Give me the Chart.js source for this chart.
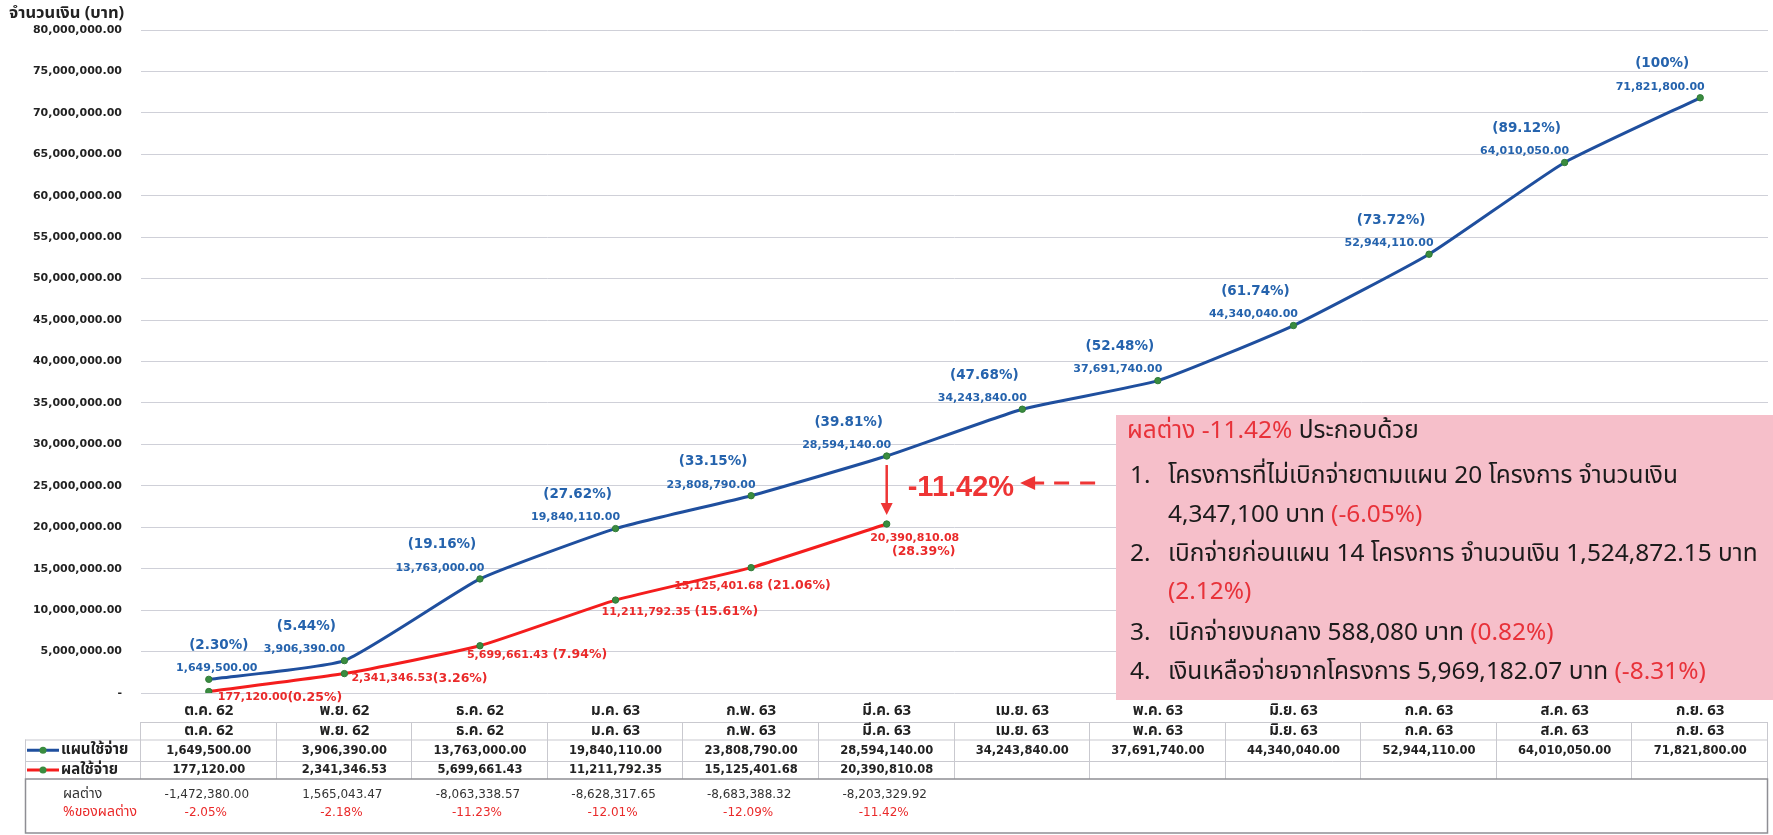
<!DOCTYPE html>
<html>
<head>
<meta charset="utf-8">
<script src="https://cdn.jsdelivr.net/npm/chart.js@4.4.0/dist/chart.umd.min.js"></script>
<style>
html,body{margin:0;padding:0;background:#ffffff;}
#wrap{position:relative;width:1773px;height:835px;}
</style>
</head>
<body>
<div id="wrap"><canvas id="c" width="1773" height="835"></canvas></div>
<script>
// ---------------- DATA ----------------
const months = ['ต.ค. 62','พ.ย. 62','ธ.ค. 62','ม.ค. 63','ก.พ. 63','มี.ค. 63','เม.ย. 63','พ.ค. 63','มิ.ย. 63','ก.ค. 63','ส.ค. 63','ก.ย. 63'];
const seriesNames = ['แผนใช้จ่าย','ผลใช้จ่าย'];
const planValues = [1649500.00, 3906390.00, 13763000.00, 19840110.00, 23808790.00, 28594140.00, 34243840.00, 37691740.00, 44340040.00, 52944110.00, 64010050.00, 71821800.00];
const planPercents = ['2.30%','5.44%','19.16%','27.62%','33.15%','39.81%','47.68%','52.48%','61.74%','73.72%','89.12%','100%'];
const actualValues = [177120.00, 2341346.53, 5699661.43, 11211792.35, 15125401.68, 20390810.08, null, null, null, null, null, null];
const actualPercents = ['0.25%','3.26%','7.94%','15.61%','21.06%','28.39%'];
const diffValues = [-1472380.00, 1565043.47, -8063338.57, -8628317.65, -8683388.32, -8203329.92];
const diffPercents = ['-2.05%','-2.18%','-11.23%','-12.01%','-12.09%','-11.42%'];
const diffRowNames = ['ผลต่าง','%ของผลต่าง'];
const yAxisTitle = 'จำนวนเงิน (บาท)';
const yMin = 0, yMax = 80000000, yStep = 5000000;
const gapLabel = '-11.42%';
const noteTitle = [['ผลต่าง -11.42%','r'],[' ประกอบด้วย','k']];
const noteLines = [
  {num:'1.', segs:[['โครงการที่ไม่เบิกจ่ายตามแผน 20 โครงการ จำนวนเงิน','k']]},
  {num:'',   segs:[['4,347,100 บาท ','k'],['(-6.05%)','r']]},
  {num:'2.', segs:[['เบิกจ่ายก่อนแผน 14 โครงการ จำนวนเงิน 1,524,872.15 บาท','k']]},
  {num:'',   segs:[['(2.12%)','r']]},
  {num:'3.', segs:[['เบิกจ่ายงบกลาง 588,080 บาท ','k'],['(0.82%)','r']]},
  {num:'4.', segs:[['เงินเหลือจ่ายจากโครงการ 5,969,182.07 บาท ','k'],['(-8.31%)','r']]}
];

// ---------------- STYLE ----------------
const NUMF = '"DejaVu Sans", Verdana, sans-serif';
const THF = '"Noto Sans Thai", "Noto Sans Thai UI", Tahoma, "DejaVu Sans", sans-serif';
const THNOTE = '"Noto Sans Thai", "Noto Sans Thai UI", "Noto Sans", sans-serif';
const BLUE = '#1f4f9e', RED = '#f41d1d', GREEN = '#3a8c3f';
const BLUE_TXT = '#2563ad', RED_TXT = '#ea2a2a', NOTE_RED = '#e8323a';

function fmt(v){
  const neg = v < 0;
  const parts = Math.abs(v).toFixed(2).split('.');
  const ip = parts[0].replace(/\B(?=(\d{3})+(?!\d))/g, ',');
  return (neg ? '-' : '') + ip + '.' + parts[1];
}

// label placement (layout only)
const redDx = [9, 7, -13, -14, -77];
const redDy = [6, 5, 9, 12, 18];

const pointLabels = {
  id: 'pointLabels',
  afterDatasetsDraw(chart){
    const ctx = chart.ctx;
    const pm = chart.getDatasetMeta(0).data;
    const am = chart.getDatasetMeta(1).data;
    ctx.save();
    ctx.textBaseline = 'middle';
    pm.forEach((p, i) => {
      const cx = i === 0 ? p.x + 8 : p.x - 40;
      const vy = p.y - 11;
      ctx.textAlign = 'center';
      ctx.fillStyle = BLUE_TXT;
      ctx.font = 'bold 11px ' + NUMF;
      ctx.fillText(fmt(planValues[i]), cx, vy);
      ctx.font = 'bold 13.5px ' + NUMF;
      ctx.fillText('(' + planPercents[i] + ')', cx + 2, vy - 23);
    });
    am.forEach((p, i) => {
      if (actualValues[i] == null) return;
      ctx.fillStyle = RED_TXT;
      const v = fmt(actualValues[i]);
      const pc = '(' + actualPercents[i] + ')';
      if (i < redDx.length) {
        ctx.textAlign = 'left';
        let x = p.x + redDx[i];
        const y = p.y + redDy[i];
        ctx.font = 'bold 11px ' + NUMF;
        ctx.fillText(v, x, y);
        x += ctx.measureText(v).width + (i >= 2 ? 4 : 0);
        ctx.font = 'bold 12.5px ' + NUMF;
        ctx.fillText(pc, x, y);
      } else {
        ctx.textAlign = 'center';
        ctx.font = 'bold 11px ' + NUMF;
        ctx.fillText(v, p.x + 28, p.y + 14);
        ctx.font = 'bold 12.5px ' + NUMF;
        ctx.fillText(pc, p.x + 37, p.y + 28);
      }
    });
    ctx.restore();
  }
};

const gapAnnot = {
  id: 'gapAnnot',
  afterDatasetsDraw(chart){
    const ctx = chart.ctx;
    const idx = actualPercents.length - 1;
    const p = chart.getDatasetMeta(0).data[idx];
    const a = chart.getDatasetMeta(1).data[idx];
    ctx.save();
    const col = '#ee3535';
    ctx.strokeStyle = col; ctx.fillStyle = col; ctx.lineWidth = 2.5;
    const y1 = p.y + 9, y2 = a.y - 9;
    ctx.beginPath(); ctx.moveTo(p.x, y1); ctx.lineTo(p.x, y2 - 10); ctx.stroke();
    ctx.beginPath(); ctx.moveTo(p.x - 6, y2 - 12); ctx.lineTo(p.x + 6, y2 - 12); ctx.lineTo(p.x, y2); ctx.closePath(); ctx.fill();
    const my = (p.y + a.y) / 2 - 2;
    ctx.font = 'bold 29px "Liberation Sans", Arial, sans-serif';
    ctx.textAlign = 'left'; ctx.textBaseline = 'middle';
    ctx.fillText(gapLabel, p.x + 21, my);
    const tw = ctx.measureText(gapLabel).width;
    const tipX = p.x + 21 + tw + 6, ay = my - 5;
    ctx.beginPath(); ctx.moveTo(tipX, ay); ctx.lineTo(tipX + 15, ay - 7); ctx.lineTo(tipX + 15, ay + 7); ctx.closePath(); ctx.fill();
    ctx.lineWidth = 3;
    ctx.beginPath(); ctx.moveTo(tipX + 12, ay); ctx.lineTo(tipX + 24, ay); ctx.stroke();
    ctx.setLineDash([15, 11]);
    ctx.beginPath(); ctx.moveTo(tipX + 34, ay); ctx.lineTo(tipX + 79, ay); ctx.stroke();
    ctx.restore();
  }
};

const noteBox = {
  id: 'noteBox',
  beforeDatasetsDraw(chart){
    const ctx = chart.ctx;
    const bx = 1116, by = 415, bw = 1773 - 1116, bh = 285;
    ctx.save();
    ctx.fillStyle = '#f6bfca';
    ctx.fillRect(bx, by, bw, bh);
    ctx.font = '20px ' + THNOTE;
    const w2 = ctx.measureText(noteLines[2].segs[0][0]).width;
    const fs = 20 * 590 / w2;
    const wt = ctx.measureText(noteTitle.map(s => s[0]).join('')).width;
    const ft = 20 * 292 / wt;
    ctx.textBaseline = 'middle'; ctx.textAlign = 'left';
    const col = c => c === 'r' ? NOTE_RED : '#1b1b1b';
    let x = bx + 11;
    ctx.font = ft + 'px ' + THNOTE;
    noteTitle.forEach(s => { ctx.fillStyle = col(s[1]); ctx.fillText(s[0], x, by + 18); x += ctx.measureText(s[0]).width; });
    const ys = [63, 102, 141, 179, 220, 259];
    ctx.font = fs + 'px ' + THNOTE;
    noteLines.forEach((ln, i) => {
      const y = by + ys[i];
      if (ln.num) { ctx.fillStyle = '#1b1b1b'; ctx.fillText(ln.num, bx + 14, y); }
      let xx = bx + 52;
      ln.segs.forEach(s => { ctx.fillStyle = col(s[1]); ctx.fillText(s[0], xx, y); xx += ctx.measureText(s[0]).width; });
    });
    ctx.restore();
  }
};

const dataTable = {
  id: 'dataTable',
  afterDraw(chart){
    const ctx = chart.ctx;
    const xs = chart.scales.x;
    const ca = chart.chartArea;
    const left = ca.left, right = ca.right;
    const colW = (right - left) / months.length;
    const tTop = ca.bottom + 29;
    const r1 = tTop + 17.5, r2 = r1 + 21.5, r3 = r2 + 18, bBot = r3 + 54;
    const legL = 25;
    ctx.save();
    ctx.strokeStyle = '#c9c9cf'; ctx.lineWidth = 1;
    ctx.beginPath();
    ctx.moveTo(left, tTop + 0.5); ctx.lineTo(right, tTop + 0.5);
    [r1, r2].forEach(y => { ctx.moveTo(legL, y + 0.5); ctx.lineTo(right, y + 0.5); });
    for (let k = 0; k <= months.length; k++) {
      const x = Math.round(left + k * colW) - 0.5;
      ctx.moveTo(x, tTop); ctx.lineTo(x, r3);
    }
    ctx.moveTo(legL + 0.5, r1); ctx.lineTo(legL + 0.5, r3);
    ctx.stroke();
    ctx.strokeStyle = '#8e8e94'; ctx.lineWidth = 1.5;
    ctx.strokeRect(legL + 0.5, r3, right - legL - 1, bBot - r3);
    ctx.textAlign = 'center'; ctx.textBaseline = 'middle';
    months.forEach((m, i) => {
      const cx = xs.getPixelForValue(i);
      ctx.fillStyle = '#222';
      ctx.font = 'bold 15px ' + THF;
      ctx.fillText(m, cx, (tTop + r1) / 2 + 1);
      ctx.font = 'bold 11.5px ' + NUMF;
      ctx.fillText(fmt(planValues[i]), cx, (r1 + r2) / 2 + 0.5);
      if (actualValues[i] != null) ctx.fillText(fmt(actualValues[i]), cx, (r2 + r3) / 2 + 0.5);
      if (i < diffValues.length) {
        ctx.font = '12px ' + NUMF;
        ctx.fillStyle = '#333';
        ctx.fillText(fmt(diffValues[i]), cx - 2, r3 + 16);
        ctx.fillStyle = RED_TXT;
        ctx.fillText(diffPercents[i], cx - 3, r3 + 34);
      }
    });
    const leg = [[BLUE, (r1 + r2) / 2], [RED, (r2 + r3) / 2]];
    leg.forEach((l, i) => {
      ctx.strokeStyle = l[0]; ctx.lineWidth = 3;
      ctx.beginPath(); ctx.moveTo(legL + 2, l[1]); ctx.lineTo(legL + 34, l[1]); ctx.stroke();
      ctx.fillStyle = GREEN; ctx.beginPath(); ctx.arc(legL + 18, l[1], 3.5, 0, Math.PI * 2); ctx.fill();
      ctx.fillStyle = '#222'; ctx.textAlign = 'left';
      ctx.font = 'bold 15px ' + THF;
      ctx.fillText(seriesNames[i], legL + 36, l[1] + 0.5);
    });
    ctx.font = '14px ' + THF;
    ctx.fillStyle = '#333';
    ctx.fillText(diffRowNames[0], 63, r3 + 16);
    ctx.fillStyle = RED_TXT;
    ctx.fillText(diffRowNames[1], 63, r3 + 34);
    ctx.fillStyle = '#222';
    ctx.font = 'bold 16.5px ' + THF;
    ctx.fillText(yAxisTitle, 9, 15);
    ctx.restore();
  }
};

new Chart(document.getElementById('c'), {
  type: 'line',
  data: {
    labels: months,
    datasets: [
      {label: seriesNames[0], data: planValues, borderColor: BLUE, borderWidth: 3, tension: 0.15,
       pointRadius: 3.2, pointBackgroundColor: GREEN, pointBorderColor: '#2f7a37', pointBorderWidth: 1},
      {label: seriesNames[1], data: actualValues, borderColor: RED, borderWidth: 3, tension: 0.15,
       pointRadius: 3.2, pointBackgroundColor: GREEN, pointBorderColor: '#2f7a37', pointBorderWidth: 1}
    ]
  },
  options: {
    responsive: false, animation: false, devicePixelRatio: 1,
    layout: {padding: {top: 30, left: 0, right: 0, bottom: 0}},
    plugins: {legend: {display: false}, tooltip: {enabled: false}},
    scales: {
      x: {
        offset: true,
        grid: {display: false, offset: true}, border: {display: false},
        ticks: {font: {family: THF, size: 15, weight: 'bold'}, color: '#222', padding: 2, maxRotation: 0, autoSkip: false},
        afterFit(s){ s.height = 142; }
      },
      y: {
        min: yMin, max: yMax,
        ticks: {stepSize: yStep, callback: v => v === 0 ? '-' : fmt(v), font: {family: NUMF, size: 11, weight: 'bold'}, color: '#222', padding: 19},
        grid: {color: '#cfd0d8', drawTicks: false, lineWidth: 1},
        border: {display: false},
        afterFit(s){ s.width = 141; }
      }
    }
  },
  plugins: [noteBox, pointLabels, gapAnnot, dataTable]
});
</script>
</body>
</html>
